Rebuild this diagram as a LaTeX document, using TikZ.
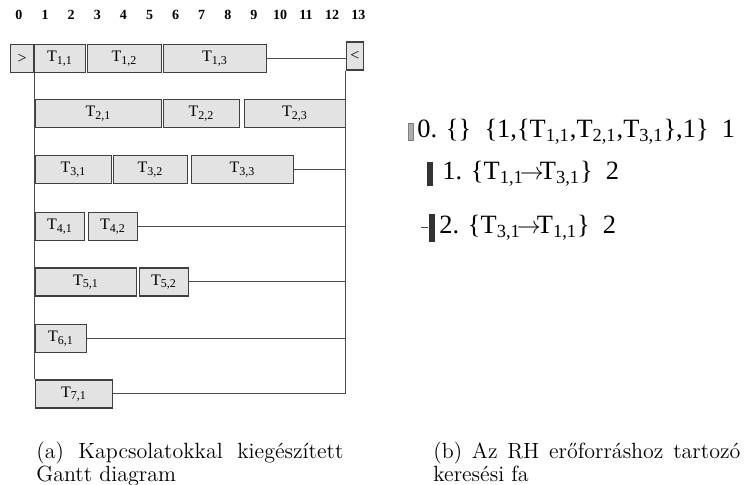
\documentclass[tikz,border=0pt]{standalone}
\usepackage{amsmath}
\usepackage{fontspec}
\newfontfamily\timesrm{Liberation Serif}
\usetikzlibrary{positioning}

\tikzset{
  feladat/.style={draw=black!75, fill=gray!22, line width=0.6pt, inner sep=0pt,
    minimum height=14pt, font=\timesrm\fontsize{8}{9}\selectfont},
  kapocs/.style={draw=black!70, line width=0.5pt},
  ido/.style={inner sep=0pt, font=\timesrm\bfseries\fontsize{7}{8}\selectfont},
  fapont/.style={anchor=west, inner sep=0pt, font=\timesrm\fontsize{13.2}{15}\selectfont},
  jel/.style={fill=black!80, inner sep=0pt, minimum width=3pt, minimum height=12pt},
  felirat/.style={anchor=north west, inner sep=0pt, align=left,
    font=\fontsize{11}{10.5}\selectfont}
}

% feladat doboz: nev, x1, x2, sor, felirat
\newcommand{\gtask}[5]{%
  \node[feladat, anchor=west, minimum width={(#3-#2)*0.5pt}] (#1) at (#2,#4) {#5};}
\newcommand{\Tsub}[1]{T\textsubscript{#1}}
\newcommand{\nyil}{\ensuremath{\!\rightarrow\!}}

\begin{document}
\begin{tikzpicture}[x=0.5pt,y=-0.5pt]
		\useasboundingbox (0,0) rectangle (746,485);
		
		% Idotengely 0..13
		\foreach \i in {0,...,13}
		\node[ido] (ido\i) at ({19+26.1*\i},15) {\i};
		
		% 1. sor
		\node[feladat, anchor=west, minimum width=11.5pt] (kezd) at (10,58.5) {>};
		\gtask{t11}{34}{85}{58.5}{\Tsub{1,1}}
		\gtask{t12}{87}{161}{58.5}{\Tsub{1,2}}
		\gtask{t13}{163}{266}{58.5}{\Tsub{1,3}}
		\node[feladat, minimum width=8.5pt] (veg) at (355,56) {<};
		
		% 2.-7. sor
		\gtask{t21}{35}{161}{113.5}{\Tsub{2,1}}
		\gtask{t22}{163}{239}{113.5}{\Tsub{2,2}}
		\gtask{t23}{244}{345}{113.5}{\Tsub{2,3}}
		\gtask{t31}{35}{111}{169.5}{\Tsub{3,1}}
		\gtask{t32}{113}{187}{169.5}{\Tsub{3,2}}
		\gtask{t33}{191}{293}{169.5}{\Tsub{3,3}}
		\gtask{t41}{35}{84}{226.5}{\Tsub{4,1}}
		\gtask{t42}{88}{137}{226.5}{\Tsub{4,2}}
		\gtask{t51}{35}{136}{282}{\Tsub{5,1}}
		\gtask{t52}{139}{188}{282}{\Tsub{5,2}}
		\gtask{t61}{35}{86}{338.5}{\Tsub{6,1}}
		\gtask{t71}{35}{112}{394}{\Tsub{7,1}}
		
		% Kapcsolatok
		\draw[kapocs] (t13.east) -- (t13.east -| veg.west);
		\draw[kapocs] (veg.south west) -- (veg.south west |- t71.east);
		\draw[kapocs] (kezd.south east) -- (kezd.south east |- t71.north);
		\foreach \t in {t33,t42,t52,t61,t71}
		\draw[kapocs] (\t.east) -- (\t.east -| veg.west);
		
		% Keresesi fa
		\node[jel, fill=gray!65, draw=black!50, line width=0.3pt, minimum width=2.5pt, minimum height=8.5pt] (m0) at (410.5,132) {};
		\node[fapont] (p0) at (417,132) {0. \{\}\ \ \{1,\{\Tsub{1,1},\Tsub{2,1},\Tsub{3,1}\},1\}\ \ 1};
		\node[jel] (m1) at (430,174) {};
		\node[fapont] (p1) at (442,174) {1. \{\Tsub{1,1}\nyil\Tsub{3,1}\}\ \ 2};
		\node[jel, minimum height=14pt] (m2) at (431.5,228) {};
		\coordinate (el2) at (421,228);
		\draw[kapocs] (el2) -- (m2.west);
		\node[fapont] (p2) at (439,228) {2. \{\Tsub{3,1}\nyil\Tsub{1,1}\}\ \ 2};
		
		% Feliratok
		\node[felirat] (capa) at (36,442) {\makebox[153.5pt][s]{(a) Kapcsolatokkal kiegészített}\\Gantt diagram};
		\node[felirat] (capb) at (433,442) {\makebox[153.5pt][s]{(b) Az RH erőforráshoz tartozó}\\keresési fa};
		
	\end{tikzpicture}
\end{document}
